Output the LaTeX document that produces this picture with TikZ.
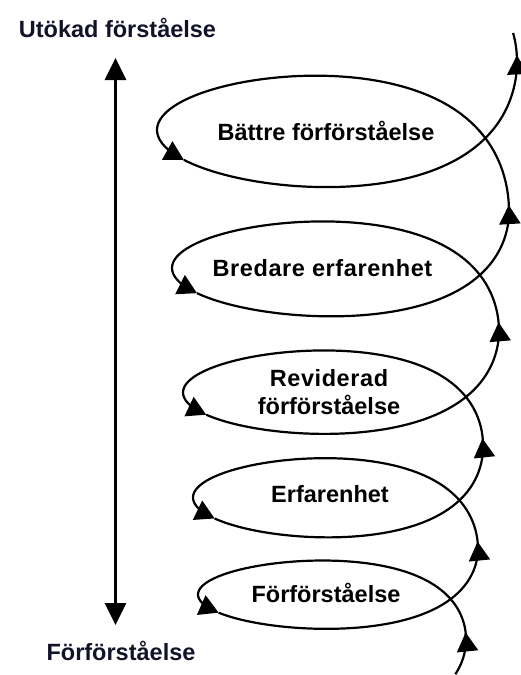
\documentclass[tikz,border=0pt]{standalone}
\usepackage{fontspec}
\setmainfont{Liberation Sans}
\usetikzlibrary{arrows.meta}
\definecolor{labelcol}{RGB}{18,18,40}
\tikzset{
  spiral/.style={line width=2.2pt, black, line join=round},
  arrowend/.style={-{Triangle[length=19pt,width=21pt]}},
  lbl/.style={font=\fontsize{23.5}{28}\selectfont\bfseries, align=center, inner sep=0pt},
  sidelbl/.style={lbl, text=labelcol},
  axis/.style={line width=3pt, {Triangle[length=22pt,width=21pt]}-{Triangle[length=22pt,width=21pt]}},
}
% loop parameters: left x, start right (x,y), end right (x,y), centre offset, half height
\def\setloop#1#2#3#4#5#6#7{\def\Lx{#1}\def\Rsx{#2}\def\Rsy{#3}\def\Rex{#4}\def\Rey{#5}\def\Ee{#6}\def\Bb{#7}}
\newcommand\spseg[4]{%
  \draw[spiral,#4] plot[domain=#1:#2, samples=#3, variable=\t]
   ({\Lx + (\Rsx + (\Rex-\Rsx)*(\t/360) - \Lx)*((1+cos(\t))/2)*(1.4-0.2*(1+cos(\t)))},
    {\Rsy + (\Rey-\Rsy)*(\t/360) + \Ee*4*(\t/360)*(1-\t/360) - \Bb*sin(\t)});}
\begin{document}
\begin{tikzpicture}[x=1pt,y=-1pt]
\useasboundingbox (0,0) rectangle (521,675);

% side labels and axis
\node[sidelbl, anchor=base] (utokad) at (117.5,37) {Utökad förståelse};
\node[sidelbl, anchor=base] (forf) at (121,660) {Förförståelse};
\coordinate (axtop) at (115.5,58);
\coordinate (axbot) at (115.5,625);
\draw[axis] (axtop) -- (axbot);

% spiral
\setloop{198}{466}{641}{478}{550}{-1}{55}
\spseg{-28}{7}{36}{arrowend}
\spseg{0}{207}{70}{arrowend}
\spseg{207}{367}{81}{arrowend}
\setloop{193}{478}{550}{483}{448}{-1.5}{63}
\spseg{0}{207}{70}{arrowend}
\spseg{207}{367}{81}{arrowend}
\setloop{183}{483}{448}{499}{333}{2}{68}
\spseg{0}{207}{70}{arrowend}
\spseg{207}{367}{81}{arrowend}
\setloop{172}{499}{333}{509}{213}{-5}{75}
\spseg{0}{207}{70}{arrowend}
\spseg{207}{365}{80}{arrowend}
\setloop{157}{509}{213}{517}{63}{-8}{90}
\spseg{0}{207}{70}{arrowend}
\spseg{207}{364}{158}{arrowend}
\spseg{360}{376}{17}{}

% loop labels
\node[lbl, anchor=base] (battre) at (326,140) {Bättre förförståelse};
\node[lbl, anchor=base] (bredare) at (322.5,276) {\addfontfeatures{LetterSpace=2.5}Bredare erfarenhet};
\node[lbl, anchor=center] (reviderad) at (329,392.5) {{\addfontfeatures{LetterSpace=2.5}Reviderad}\\förförståelse};
\node[lbl, anchor=base] (erfarenhet) at (330,502) {Erfarenhet};
\node[lbl, anchor=base] (forforst) at (326,602) {Förförståelse};
\end{tikzpicture}
\end{document}
